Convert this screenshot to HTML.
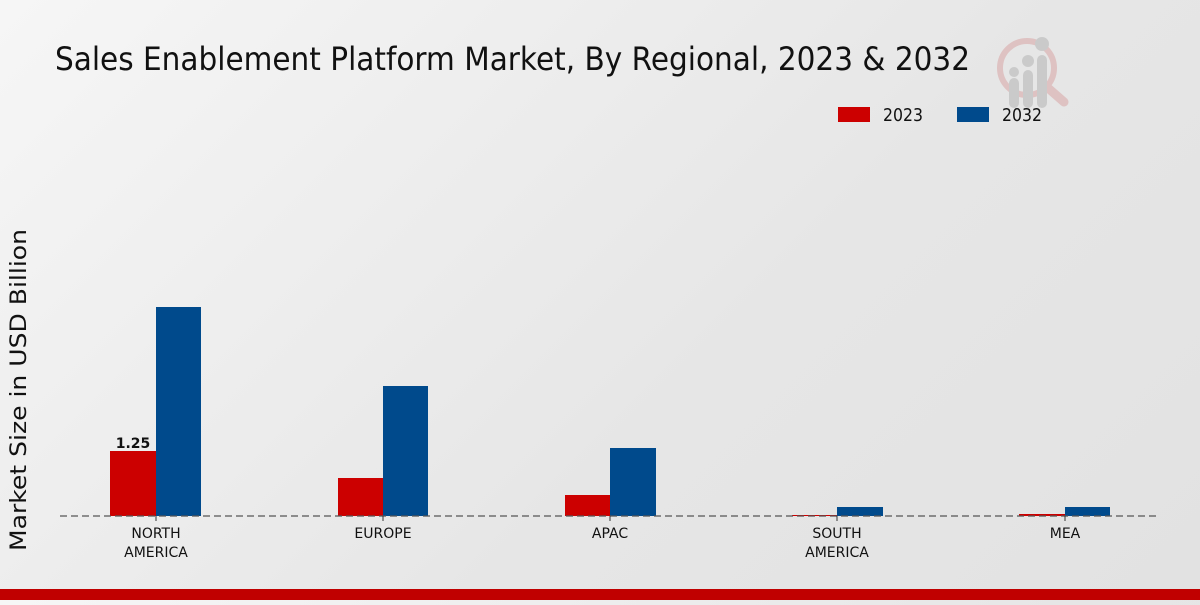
<!DOCTYPE html>
<html><head><meta charset="utf-8"><style>
html,body{margin:0;padding:0;}
body{width:1200px;height:600px;overflow:hidden;background:linear-gradient(135deg,#f6f6f6 0%,#e6e6e6 60%,#e2e2e2 100%);}
</style></head><body>
<svg width="1200" height="600" xmlns="http://www.w3.org/2000/svg" font-family="DejaVu Sans, Liberation Sans, sans-serif">
<text x="55" y="70" font-size="32" textLength="915" lengthAdjust="spacingAndGlyphs" fill="#111">Sales Enablement Platform Market, By Regional, 2023 &amp; 2032</text>
<g opacity="0.35">
<circle cx="1027" cy="68" r="27" fill="none" stroke="#d08080" stroke-width="6"/>
<line x1="1048" y1="88" x2="1064" y2="102" stroke="#d08080" stroke-width="9" stroke-linecap="round"/>
<rect x="1009" y="78" width="10" height="30" rx="5" fill="#999"/>
<rect x="1023" y="70" width="10" height="38" rx="5" fill="#999"/>
<rect x="1037" y="55" width="10" height="53" rx="5" fill="#999"/>
<circle cx="1014" cy="72" r="5" fill="#999"/><circle cx="1028" cy="61" r="6" fill="#999"/><circle cx="1042" cy="44" r="7" fill="#999"/>
</g>
<rect x="838" y="107" width="32" height="15" fill="#cc0000"/>
<text x="883" y="121" font-size="18" textLength="40" lengthAdjust="spacingAndGlyphs" fill="#111">2023</text>
<rect x="957" y="107" width="32" height="15" fill="#004a8c"/>
<text x="1002" y="121" font-size="18" textLength="40" lengthAdjust="spacingAndGlyphs" fill="#111">2032</text>
<text transform="translate(26,390) rotate(-90)" font-size="22" text-anchor="middle" textLength="322" lengthAdjust="spacingAndGlyphs" fill="#111">Market Size in USD Billion</text>
<g>
<rect x="110" y="451" width="46" height="65" fill="#cc0000"/>
<rect x="156" y="307" width="45" height="209" fill="#004a8c"/>
<rect x="338" y="478" width="45" height="38" fill="#cc0000"/>
<rect x="383" y="386" width="45" height="130" fill="#004a8c"/>
<rect x="565" y="495" width="45" height="21" fill="#cc0000"/>
<rect x="610" y="448" width="46" height="68" fill="#004a8c"/>
<rect x="792" y="515" width="45" height="1" fill="#cc0000"/>
<rect x="837" y="507" width="46" height="9" fill="#004a8c"/>
<rect x="1019" y="514" width="46" height="2" fill="#cc0000"/>
<rect x="1065" y="507" width="45" height="9" fill="#004a8c"/>
</g>
<text x="133" y="448" font-size="14" font-weight="bold" text-anchor="middle" fill="#111">1.25</text>
<line x1="60" y1="516" x2="1160" y2="516" stroke="#555" stroke-width="1.2" stroke-dasharray="7,4"/>
<g stroke="#333"><line x1="156" y1="516" x2="156" y2="521"/><line x1="383" y1="516" x2="383" y2="521"/><line x1="610" y1="516" x2="610" y2="521"/><line x1="837" y1="516" x2="837" y2="521"/><line x1="1065" y1="516" x2="1065" y2="521"/></g>
<g font-size="14" text-anchor="middle" fill="#111">
<text x="156" y="538">NORTH</text><text x="156" y="557">AMERICA</text>
<text x="383" y="538">EUROPE</text>
<text x="610" y="538">APAC</text>
<text x="837" y="538">SOUTH</text><text x="837" y="557">AMERICA</text>
<text x="1065" y="538">MEA</text>
</g>
<rect x="0" y="589" width="1200" height="11" fill="#c00000"/>
</svg>
</body></html>
